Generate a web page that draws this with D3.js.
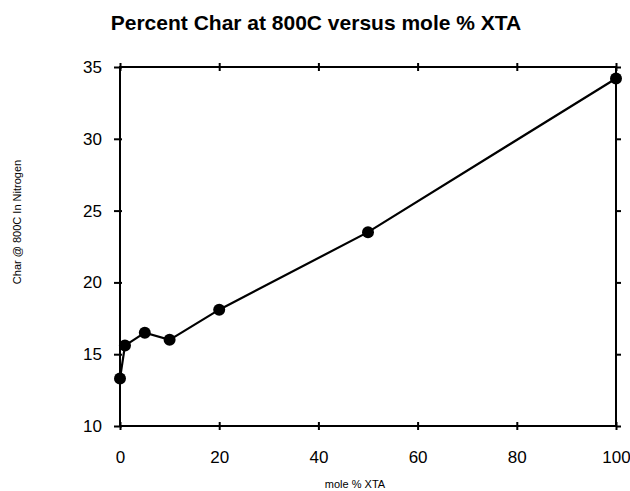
<!DOCTYPE html>
<html><head><meta charset="utf-8">
<script src="https://cdn.jsdelivr.net/npm/d3@7"></script>
<style>body{margin:0;background:#fff}</style>
</head><body>
<svg id="c" width="630" height="491"></svg>
<script>
const moleXTA = [0, 1, 5, 10, 20, 50, 100];
const charPct = [13.3, 15.6, 16.5, 16.0, 18.1, 23.5, 34.2];
const xTicks = [0, 20, 40, 60, 80, 100];
const yTicks = [10, 15, 20, 25, 30, 35];
const title = "Percent Char at 800C versus mole % XTA";
const xLabel = "mole % XTA";
const yLabel = "Char @ 800C In Nitrogen";

(function () {
const svg = d3.select("#c");
const L = 120, R = 616, T = 67, B = 426;
const x = d3.scaleLinear().domain([0, 100]).range([L, R]);
const y = d3.scaleLinear().domain([10, 35]).range([B, T]);
const font = "Liberation Sans, Arial, sans-serif";

svg.append("text").attr("x", 316).attr("y", 30).attr("text-anchor", "middle")
  .attr("font-family", font).attr("font-weight", "bold").attr("font-size", 21)
  .text(title);

const style = g => { g.select(".domain").remove(); g.selectAll("line").attr("stroke", "#000").attr("stroke-width", 2); };
const leftAx = svg.append("g").attr("transform", `translate(${L},0)`)
  .call(d3.axisLeft(y).tickValues(yTicks).tickSize(6).tickPadding(12)).call(style);
leftAx.selectAll("text").attr("font-family", font).attr("font-size", 17).attr("fill", "#000");
leftAx.selectAll(".tick line").attr("x2", -6).attr("x1", 2);
const bottomAx = svg.append("g").attr("transform", `translate(0,${B})`)
  .call(d3.axisBottom(x).tickValues(xTicks).tickSize(5).tickPadding(20)).call(style);
bottomAx.selectAll("text").attr("font-family", font).attr("font-size", 17).attr("fill", "#000");
bottomAx.selectAll(".tick line").attr("y1", -4).attr("y2", 4);
const topAx = svg.append("g").attr("transform", `translate(0,${T})`)
  .call(d3.axisTop(x).tickValues(xTicks).tickSize(4).tickFormat("")).call(style);
topAx.selectAll(".tick line").attr("y1", 4).attr("y2", -4);
svg.append("g").attr("transform", `translate(${R},0)`)
  .call(d3.axisRight(y).tickValues(yTicks).tickSize(5).tickFormat("")).call(style);

svg.append("rect").attr("x", L).attr("y", T).attr("width", R - L).attr("height", B - T)
  .attr("fill", "none").attr("stroke", "#000").attr("stroke-width", 2);

const data = moleXTA.map((v, i) => ({ x: v, y: charPct[i] }));
svg.append("path").datum(data)
  .attr("d", d3.line().x(d => x(d.x)).y(d => y(d.y)))
  .attr("fill", "none").attr("stroke", "#000").attr("stroke-width", 2.2);
svg.selectAll("circle.pt").data(data).enter().append("circle")
  .attr("cx", d => x(d.x)).attr("cy", d => y(d.y)).attr("r", 6).attr("fill", "#000");

svg.append("text").attr("x", 355).attr("y", 488).attr("text-anchor", "middle")
  .attr("font-family", font).attr("font-size", 11).attr("fill", "#000").text(xLabel);
svg.append("text").attr("transform", "translate(21,222) rotate(-90)").attr("text-anchor", "middle")
  .attr("font-family", font).attr("font-size", 11).attr("fill", "#000").text(yLabel);
})();
</script>
</body></html>
